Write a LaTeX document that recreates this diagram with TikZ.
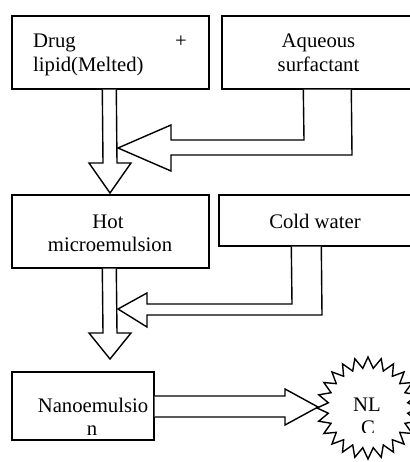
\documentclass[tikz,border=0pt]{standalone}
\usepackage{fontspec}
\setmainfont{Liberation Serif}
\begin{document}
\begin{tikzpicture}[x=1pt,y=-1pt,
  box/.style={draw,line width=1.4pt,rectangle,inner sep=0pt},
  blk/.style={draw,line width=1.4pt,line join=miter,fill=white},
  txt/.style={inner sep=0pt,font=\fontsize{20.7}{23.5}\selectfont}]
\useasboundingbox (0,0) rectangle (409,462);
% boxes
\node[box,minimum width=197pt,minimum height=73pt] (b1) at (110.5,52.5) {};
\node[box,minimum width=198pt,minimum height=73pt] (b2) at (321,52.5) {};
\node[box,minimum width=197pt,minimum height=73pt] (b3) at (110.5,231.5) {};
\node[box,minimum width=194pt,minimum height=51pt] (b4) at (316,220.5) {};
\node[box,minimum width=142pt,minimum height=68pt] (b5) at (83,406) {};
% texts
\node[txt,anchor=base west] (t1a) at (33,48) {Drug};
\node[txt,anchor=base east] (t1b) at (187,48) {+};
\node[txt,anchor=base west] (t1c) at (33,71.5) {lipid(Melted)};
\node[txt,anchor=base] (t2a) at (318.5,48) {Aqueous};
\node[txt,anchor=base] (t2b) at (318.5,71.5) {surfactant};
\node[txt,anchor=base] (t3a) at (108,228) {Hot};
\node[txt,anchor=base] (t3b) at (110,251.5) {microemulsion};
\node[txt,anchor=base] (t4) at (315,228) {Cold water};
\node[txt,anchor=base] (t5a) at (93,412) {Nanoemulsio};
\node[txt,anchor=base] (t5b) at (92,435) {n};
% down arrow 1
\draw[blk] ([xshift=91pt]b1.south west) -- (103,163) -- (89,163) -- (110,193) -- (131,163) -- (117,163) -- ([xshift=105pt]b1.south west);
% left arrow 1
\draw[blk] ([xshift=82pt]b2.south west) -- (304,140) -- (171,140) -- (171,125) -- (118,148) -- (171,171) -- (171,155) -- (352,155) -- ([xshift=130pt]b2.south west);
% down arrow 2
\draw[blk] ([xshift=91pt]b3.south west) -- (103,333) -- (89,333) -- (110,359) -- (131,333) -- (117,333) -- ([xshift=105pt]b3.south west);
% left arrow 2
\draw[blk] ([xshift=73pt]b4.south west) -- (292,304) -- (147,304) -- (147,293) -- (118,309) -- (147,327) -- (147,315) -- (322,315) -- ([xshift=103pt]b4.south west);
% star burst
\coordinate (sc) at (368,408);
\draw[line width=1.4pt,line join=miter,fill=white] plot[samples=49,domain=0:48,variable=\k]
  ({368+(45.5+5.5*cos(\k*180))*cos(\k*7.5)},{408+(45.5+5.5*cos(\k*180))*sin(\k*7.5)}) -- cycle;
% right arrow
\draw[blk] (b5.east |- 0,396) -- (285,396) -- (285,389) -- (318,407) -- (285,425) -- (285,417) -- (b5.east |- 0,417);
% star text
\node[txt,anchor=base] (nl) at (367,411) {NL};
\begin{scope}
\clip (330,380) rectangle (405,432);
\node[txt,anchor=base] (nc) at (368,434) {C};
\end{scope}
\end{tikzpicture}
\end{document}
